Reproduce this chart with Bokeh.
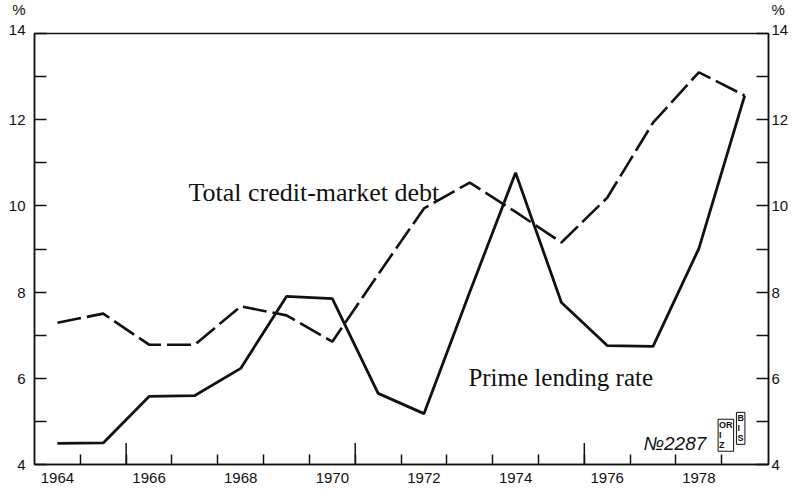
from bokeh.plotting import figure
from bokeh.models import FixedTicker, LinearAxis, Label, Range1d
from bokeh.embed import file_html
from bokeh.resources import INLINE

# ---- data ----
years = [1964, 1965, 1966, 1967, 1968, 1969, 1970, 1971, 1972, 1973, 1974, 1975, 1976, 1977, 1978, 1979]
prime_rate = [4.49, 4.50, 5.58, 5.60, 6.23, 7.90, 7.85, 5.65, 5.18, 8.00, 10.77, 7.76, 6.76, 6.74, 9.01, 12.56]
credit_debt = [7.29, 7.50, 6.78, 6.78, 7.67, 7.46, 6.85, 8.41, 9.94, 10.54, 9.86, 9.15, 10.19, 11.93, 13.10, 12.56]

x_tick_labels = [1964, 1966, 1968, 1970, 1972, 1974, 1976, 1978]
x_minor_ticks = [1964.5, 1965.5, 1966.5, 1967.5, 1968.5, 1969.5, 1970.5, 1971.5,
                 1972.5, 1973.5, 1974.5, 1975.5, 1976.5, 1977.5, 1978.5]
x_long_ticks = [1965.5, 1970.5, 1975.5]
y_major = [4, 6, 8, 10, 12, 14]
y_minor = [5, 7, 9, 11, 13]
y_unit = "%"

SANS = "Liberation Sans"
SERIF = "Liberation Serif"
INK = "#111111"

p = figure(width=794, height=490, output_backend="svg", toolbar_location=None,
           x_range=Range1d(1963.5, 1979.52), y_range=Range1d(4, 14),
           min_border_left=34, min_border_right=26, min_border_top=33, min_border_bottom=26)
p.xgrid.visible = False
p.ygrid.visible = False
p.outline_line_color = INK
p.outline_line_width = 1.5
p.background_fill_color = "white"
p.border_fill_color = "white"

# x axis
xa = p.xaxis[0]
xa.ticker = FixedTicker(ticks=x_tick_labels, minor_ticks=x_minor_ticks)
xa.major_tick_in = 0
xa.major_tick_out = 0
xa.minor_tick_in = 10
xa.minor_tick_out = 0
xa.minor_tick_line_width = 1.5
xa.minor_tick_line_color = INK
xa.axis_line_width = 1.5
xa.axis_line_color = INK
xa.major_label_standoff = 8
xa.major_label_text_font = SANS
xa.major_label_text_font_size = "15px"
xa.major_label_text_color = INK


def style_y(ax):
    ax.ticker = FixedTicker(ticks=y_major, minor_ticks=y_minor)
    ax.major_tick_in = 12
    ax.major_tick_out = 0
    ax.minor_tick_in = 12
    ax.minor_tick_out = 0
    ax.major_tick_line_width = 1.5
    ax.minor_tick_line_width = 1.5
    ax.major_tick_line_color = INK
    ax.minor_tick_line_color = INK
    ax.axis_line_width = 1.5
    ax.axis_line_color = INK
    ax.major_label_text_font = SANS
    ax.major_label_text_font_size = "15px"
    ax.major_label_text_color = INK
    # unit sign above the top tick label
    top = y_major[-1]
    ax.major_label_overrides = {top: f"{y_unit}\n{top}\n \n "}


ya = p.yaxis[0]
style_y(ya)
ya.major_label_standoff = 9

ra = LinearAxis()
style_y(ra)
ra.major_label_standoff = 3
p.add_layout(ra, "right")

# long x ticks
p.segment(x0=x_long_ticks, y0=[4] * len(x_long_ticks), x1=x_long_ticks,
          y1=[4.5] * len(x_long_ticks), line_color=INK, line_width=1.5)

# series
p.line(years, credit_debt, line_color=INK, line_width=2.6, line_dash="24 6")
p.line(years, prime_rate, line_color=INK, line_width=2.8)

# series labels
p.add_layout(Label(x=1966.86, y=10.31, text="Total credit-market debt",
                   text_font=SERIF, text_font_size="26px", text_color=INK,
                   text_baseline="alphabetic"))
p.add_layout(Label(x=1972.97, y=6.02, text="Prime lending rate",
                   text_font=SERIF, text_font_size="25px", text_color=INK,
                   text_baseline="alphabetic"))

# reference number and small logo
p.add_layout(Label(x=1976.79, y=4.49, text="\u21162287", text_font=SANS, text_font_size="19px",
                   text_font_style="italic", text_color=INK, text_baseline="alphabetic"))
p.add_layout(Label(x=1978.82, y=5.21, text="B\nI\nS", text_font=SANS, text_font_size="9px",
                   text_font_style="bold", text_color=INK, text_baseline="top", text_line_height=1.0,
                   border_line_color=INK, border_line_width=1, padding=1))
p.add_layout(Label(x=1978.42, y=5.05, text="OR\nI\nZ", text_font=SANS, text_font_size="9px",
                   text_font_style="bold", text_color=INK, text_baseline="top", text_line_height=1.0,
                   border_line_color=INK, border_line_width=1, padding=1))

open("out.html", "w").write(file_html(p, INLINE))
